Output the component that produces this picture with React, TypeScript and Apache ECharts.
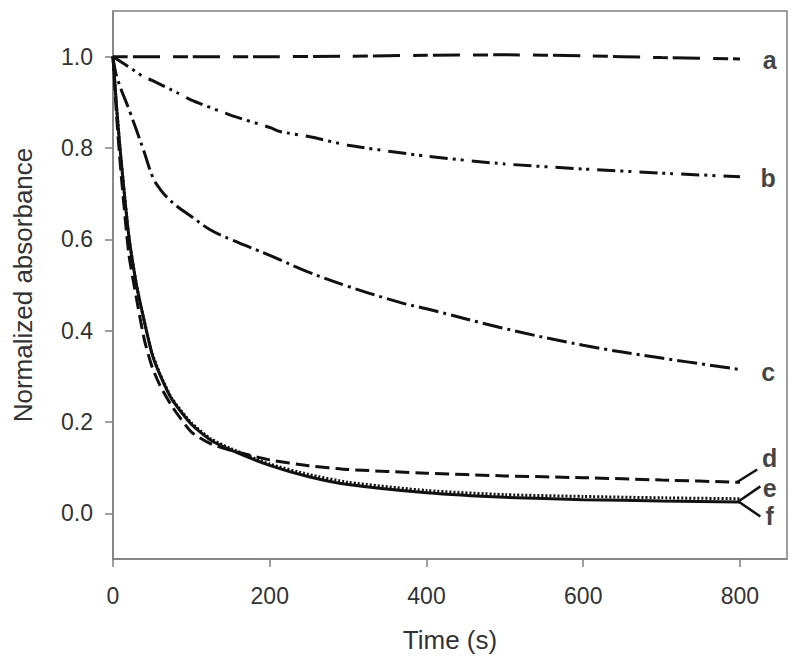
import React, { useEffect, useRef } from "react";
import * as echarts from "echarts";

// Time (s) and normalized absorbance for each curve
const tA = [0, 100, 200, 300, 400, 500, 600, 700, 800];
const vA = [1.0, 1.0, 1.0, 1.001, 1.003, 1.004, 1.002, 0.998, 0.995];

const tB = [0, 25, 39, 50, 82, 100, 150, 200, 213, 250, 300, 400, 500, 600, 700, 800];
const vB = [1.0, 0.972, 0.956, 0.948, 0.921, 0.905, 0.872, 0.845, 0.836, 0.825, 0.806, 0.782, 0.765, 0.754, 0.745, 0.737];

const tC = [0, 5, 22, 39, 51, 60, 69, 82, 100, 124, 150, 200, 247, 300, 366, 400, 494, 600, 700, 800];
const vC = [1.0, 0.955, 0.877, 0.795, 0.735, 0.71, 0.692, 0.672, 0.65, 0.621, 0.6, 0.565, 0.53, 0.497, 0.462, 0.448, 0.407, 0.368, 0.34, 0.315];

const tDEF = [0, 5, 10, 20, 30, 40, 50, 60, 75, 100, 125, 150, 200, 250, 300, 400, 500, 600, 700, 800];
const vD = [1.0, 0.86, 0.75, 0.57, 0.47, 0.38, 0.32, 0.28, 0.235, 0.178, 0.152, 0.138, 0.117, 0.104, 0.096, 0.088, 0.082, 0.078, 0.073, 0.068];
const vE = [1.0, 0.88, 0.78, 0.61, 0.5, 0.42, 0.35, 0.305, 0.252, 0.198, 0.163, 0.142, 0.108, 0.085, 0.068, 0.05, 0.041, 0.037, 0.034, 0.032];
const vF = [1.0, 0.88, 0.78, 0.61, 0.5, 0.42, 0.348, 0.303, 0.25, 0.195, 0.16, 0.139, 0.105, 0.08, 0.063, 0.045, 0.035, 0.03, 0.027, 0.025];

// Curve labels (data coordinates)
const labelNames = ["a", "b", "c", "d", "e", "f"];
const labelT = [838, 836, 836, 838, 838, 838];
const labelV = [0.993, 0.735, 0.31, 0.121, 0.056, -0.006];

// Leader lines for d, e, f labels (data coordinates)
const leaderD = [[796, 0.068], [822, 0.096]];
const leaderE = [[798, 0.026], [826, 0.059]];
const leaderF = [[798, 0.026], [826, -0.007]];

const xTicks = [0, 200, 400, 600, 800];
const yTicks = [0, 0.2, 0.4, 0.6, 0.8, 1.0];

const zip = (t: number[], v: number[]) => t.map((x, i) => [x, v[i]]);

export default function App() {
  const ref = useRef<HTMLDivElement>(null);
  useEffect(() => {
    if (!ref.current) return;
    const chart = echarts.init(ref.current, null, { renderer: "svg" });
    const ink = "#111";
    const lw = 3;
    const curve = (data: number[][], dash: any, smooth = 0.2) => ({
      type: "line",
      data,
      showSymbol: false,
      symbol: "none",
      smooth,
      lineStyle: { color: ink, width: lw, type: dash, cap: "butt" },
      z: 3,
    });
    const leader = (data: number[][]) => ({
      type: "line",
      data,
      showSymbol: false,
      symbol: "none",
      clip: false,
      lineStyle: { color: ink, width: 2.5, type: "solid" },
    });
    chart.setOption({
      animation: false,
      backgroundColor: "#fff",
      textStyle: { fontFamily: "Liberation Sans, Arial, sans-serif" },
      grid: {
        left: 113,
        right: 13,
        top: 11,
        bottom: 111,
        show: true,
        borderColor: "#808080",
        borderWidth: 1.5,
      },
      xAxis: {
        type: "value",
        min: 0,
        max: 860,
        name: "Time (s)",
        nameLocation: "middle",
        nameGap: 68,
        nameTextStyle: { fontSize: 26, color: "#333" },
        axisLine: { show: true, onZero: false, lineStyle: { color: "#808080", width: 1.5 } },
        axisTick: { show: true, inside: false, length: 8, customValues: xTicks, lineStyle: { color: "#808080", width: 1.5 } },
        axisLabel: { customValues: xTicks, fontSize: 23, color: "#333", margin: 25 },
        splitLine: { show: false },
      },
      yAxis: {
        type: "value",
        min: -0.1,
        max: 1.1,
        name: "Normalized absorbance",
        nameLocation: "middle",
        nameGap: 77,
        nameTextStyle: { fontSize: 26, color: "#333" },
        axisLine: { show: true, onZero: false, lineStyle: { color: "#808080", width: 1.5 } },
        axisTick: { show: true, inside: false, length: 8, customValues: yTicks, lineStyle: { color: "#808080", width: 1.5 } },
        axisLabel: {
          customValues: yTicks,
          fontSize: 23,
          color: "#333",
          margin: 20,
          formatter: (v: number) => v.toFixed(1),
        },
        splitLine: { show: false },
      },
      series: [
        curve(zip(tA, vA), [15, 5, 27, 13]),
        curve(zip(tB, vB), [18, 5, 3, 5, 3, 8]),
        curve(zip(tC, vC), [20, 5, 3, 5], 0.4),
        curve(zip(tDEF, vD), [14, 6]),
        curve(zip(tDEF, vE), [2, 2]),
        curve(zip(tDEF, vF), "solid"),
        leader(leaderD),
        leader(leaderE),
        leader(leaderF),
        {
          type: "scatter",
          symbolSize: 0,
          clip: false,
          data: labelNames.map((n, i) => ({ name: n, value: [labelT[i], labelV[i]] })),
          label: {
            show: true,
            position: "inside",
            formatter: (p: any) => p.name,
            fontSize: 25,
            lineHeight: 22,
            fontWeight: "bold",
            color: ink,
          },
        },
      ],
    });
    return () => chart.dispose();
  }, []);
  return (
    <div
      ref={ref}
      style={{ position: "absolute", left: 0, top: 0, width: 800, height: 670 }}
    />
  );
}
